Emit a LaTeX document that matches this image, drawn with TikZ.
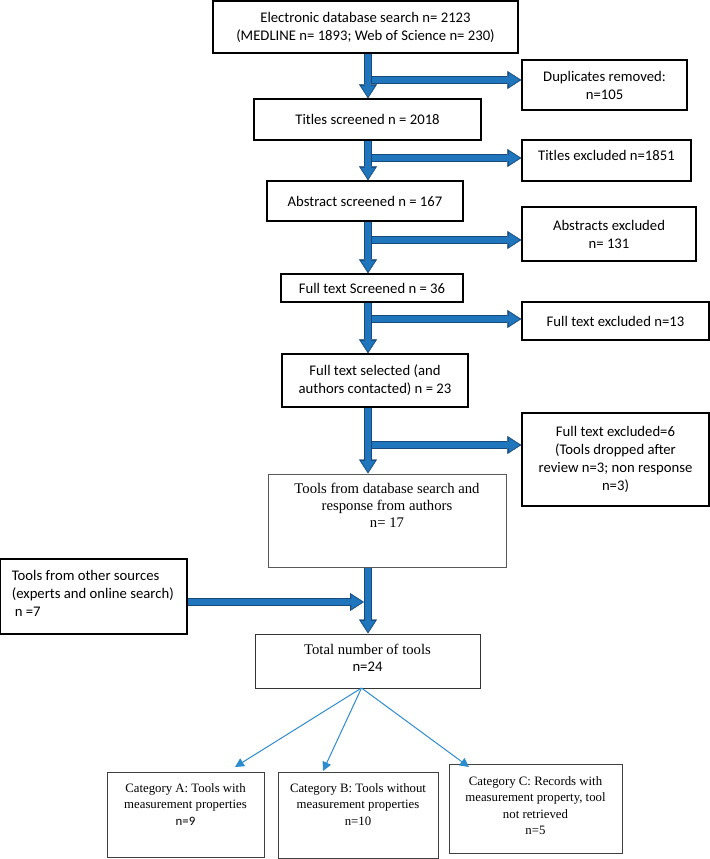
\documentclass[tikz,border=0pt]{standalone}
\usepackage{fontspec}
\setmainfont{Liberation Serif}
\newfontfamily\carl{Carlito}
\usetikzlibrary{arrows.meta}
\definecolor{arrblue}{RGB}{31,118,188}
\definecolor{arrdark}{RGB}{22,74,122}
\definecolor{thinblue}{RGB}{45,140,205}
\tikzset{
 geom/.style n args={4}{minimum width={(#3-#1)*1bp}, minimum height={(#4-#2)*1bp}, at={({(#1+#3)/2},{(#2+#4)/2})}},
 sbox/.style={draw=black, line width=1.3bp, inner sep=0pt, align=center, font=\carl\fontsize{14.7bp}{18bp}\selectfont},
 tbox/.style={draw=black!65, line width=1bp, inner sep=0pt, align=center, font=\fontsize{14.7bp}{17bp}\selectfont},
 cbox/.style={draw=black!75, line width=1bp, inner sep=0pt, align=center, font=\fontsize{12.8bp}{16.5bp}\selectfont},
 bigout/.style={draw=arrdark, line width=8.5bp, -{Triangle[width=18bp,length=14bp,line width=0.4bp]}},
 bigin/.style={draw=arrblue, line width=5.8bp, -{Triangle[width=14bp,length=11bp,line width=0.4bp]}, shorten >=1.6bp},
 thinarr/.style={draw=thinblue, line width=1bp, -{Triangle[width=9bp,length=9bp]}},
}
\newcommand\bigarrow[2]{\draw[bigout] #1 -- #2; \draw[bigin] #1 -- #2;}
\begin{document}
\begin{tikzpicture}[x=1bp,y=-1bp]
\useasboundingbox (0,0) rectangle (710,859);
\coordinate (trunk) at (368,0);
\node[sbox, geom={213}{1}{518}{53}] (db) {Electronic database search n= 2123\\(MEDLINE n= 1893; Web of Science n= 230)};
\node[sbox, geom={522}{60}{687}{110}] (dup) {Duplicates removed:\\n=105};
\node[sbox, geom={254}{99}{481}{140}] (tit) {Titles screened n = 2018};
\node[sbox, geom={522}{140}{691}{181}] (titx) {\parbox[c][41bp][t]{169bp}{\centering\rule{0pt}{20bp}Titles excluded n=1851}};
\node[sbox, geom={267}{181}{463}{221}] (abs) {Abstract screened n = 167};
\node[sbox, geom={522}{207}{696}{261}] (absx) {Abstracts excluded\\n= 131};
\node[sbox, geom={281}{274}{463}{302}] (fts) {Full text Screened n = 36};
\node[sbox, geom={522}{302}{709}{340}] (ftx) {Full text excluded n=13};
\node[sbox, geom={282}{354}{468}{407}] (fsel) {Full text selected (and\\authors contacted) n = 23};
\node[sbox, geom={522}{413}{709}{506}] (ftxs) {Full text excluded=6\\(Tools dropped after\\review n=3; non response\\n=3)};
\node[tbox, geom={268}{474}{506}{567}] (tools) {\parbox[c][93bp][t]{238bp}{\centering\rule{0pt}{19bp}Tools from database search and\\response from authors\\n= 17}};
\node[sbox, geom={0.7}{559}{187}{634}] (other) {\parbox[c][75bp][t]{186bp}{\raggedright\leftskip=11bp\rule{0pt}{21bp}Tools from other sources\\(experts and online search)\\\hspace*{3bp}n =7}};
\node[tbox, draw=black!80, geom={255}{634}{480}{688}] (total) {\parbox[c][54bp][t]{225bp}{\centering\rule{0pt}{20bp}Total number of tools\\{\carl n=24}}};
\node[cbox, geom={107}{772}{264}{857}] (ca) {\parbox[c][85bp][t]{157bp}{\centering\rule{0pt}{20bp}Category A: Tools with\\measurement properties\\{\carl n=9}}};
\node[cbox, geom={278}{772}{438}{858}] (cb) {\parbox[c][86bp][t]{160bp}{\centering\rule{0pt}{20bp}Category B: Tools without\\measurement properties\\n=10}};
\node[cbox, geom={449}{764}{622}{853}] (cc) {\parbox[c][89bp][t]{173bp}{\centering\rule{0pt}{21bp}Category C: Records with\\measurement property, tool\\not retrieved\\n=5}};
% thick arrows
\bigarrow{(db.south -| trunk)}{(tit.north -| trunk)}
\coordinate (h1) at (372,80);
\bigarrow{(h1)}{(h1 -| dup.west)}
\bigarrow{(tit.south -| trunk)}{(abs.north -| trunk)}
\coordinate (h2) at (372,158);
\bigarrow{(h2)}{(h2 -| titx.west)}
\bigarrow{(abs.south -| trunk)}{(fts.north -| trunk)}
\coordinate (h3) at (372,240);
\bigarrow{(h3)}{(h3 -| absx.west)}
\bigarrow{(fts.south -| trunk)}{(fsel.north -| trunk)}
\coordinate (h4) at (372,319);
\bigarrow{(h4)}{(h4 -| ftx.west)}
\bigarrow{(fsel.south -| trunk)}{(tools.north -| trunk)}
\coordinate (h5) at (372,445);
\bigarrow{(h5)}{(h5 -| ftxs.west)}
\bigarrow{(tools.south -| trunk)}{(total.north -| trunk)}
\coordinate (j) at (364,602);
\bigarrow{(other.east |- j)}{(j)}
% thin arrows
\coordinate (split) at (361.5,688);
\coordinate (ea) at (235,767);
\coordinate (eb) at (323,771);
\coordinate (ec) at (469,767);
\draw[thinarr] (split) -- (ea);
\draw[thinarr] (split) -- (eb);
\draw[thinarr] (split) -- (ec);
\end{tikzpicture}
\end{document}
